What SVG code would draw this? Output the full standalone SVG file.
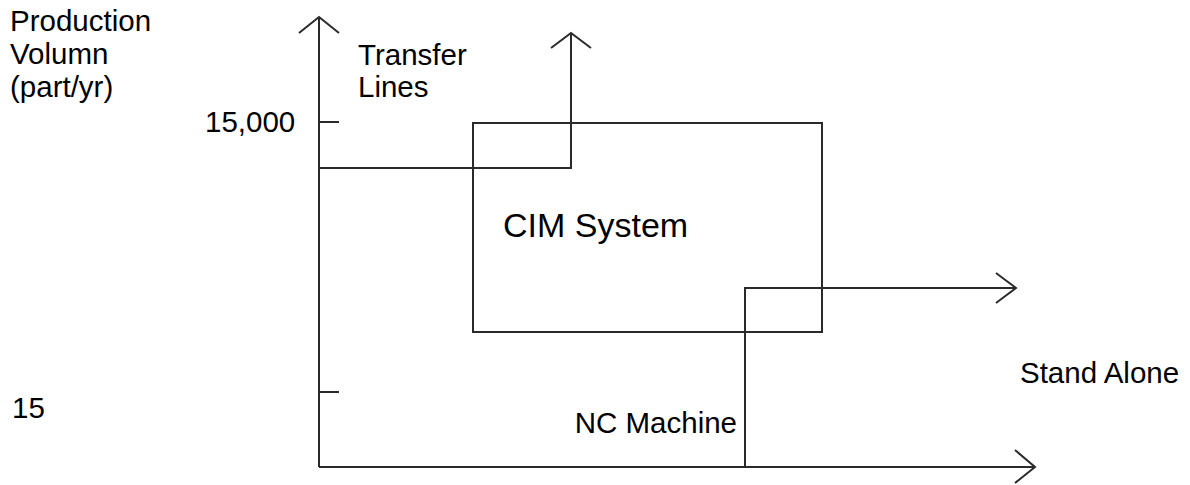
<svg xmlns="http://www.w3.org/2000/svg" width="1190" height="485" viewBox="0 0 1190 485">
<style>
  .ln { fill: none; stroke: #2a2a2a; stroke-width: 2; stroke-linecap: butt; stroke-linejoin: miter; }
  .t { font-family: "Liberation Sans", Arial, sans-serif; font-size: 29.5px; fill: #000; }
  .big { font-size: 34px; }
</style>
<rect width="1190" height="485" fill="#fff"/>
<g id="axes">
  <path class="ln" d="M319,467 V18"/>
  <path class="ln" d="M299,33 L319,17 L339,33"/>
  <path class="ln" d="M319,467 H1035"/>
  <path class="ln" d="M1015,450 L1035,467 L1015,483"/>
  <path class="ln" d="M319,122 H339"/>
  <path class="ln" d="M319,392 H339"/>
</g>
<g id="cim-system">
  <rect class="ln" x="473" y="123" width="349" height="209"/>
  <text class="t big" x="503" y="237">CIM System</text>
</g>
<g id="connectors">
  <path class="ln" d="M319,168 H571 V33"/>
  <path class="ln" d="M551,48 L571,33 L591,48"/>
  <path class="ln" d="M745,467 V288 H1015"/>
  <path class="ln" d="M996,273 L1016,288 L996,303"/>
</g>
<g id="labels">
  <text class="t" x="10" y="31">Production</text>
  <text class="t" x="10" y="64">Volumn</text>
  <text class="t" x="10" y="97">(part/yr)</text>
  <text class="t" x="358" y="65">Transfer</text>
  <text class="t" x="358" y="97">Lines</text>
  <text class="t" x="205" y="132">15,000</text>
  <text class="t" x="12" y="418">15</text>
  <text class="t" x="1020" y="383">Stand Alone</text>
  <text class="t" x="737" y="433" text-anchor="end">NC Machine</text>
</g>
</svg>
